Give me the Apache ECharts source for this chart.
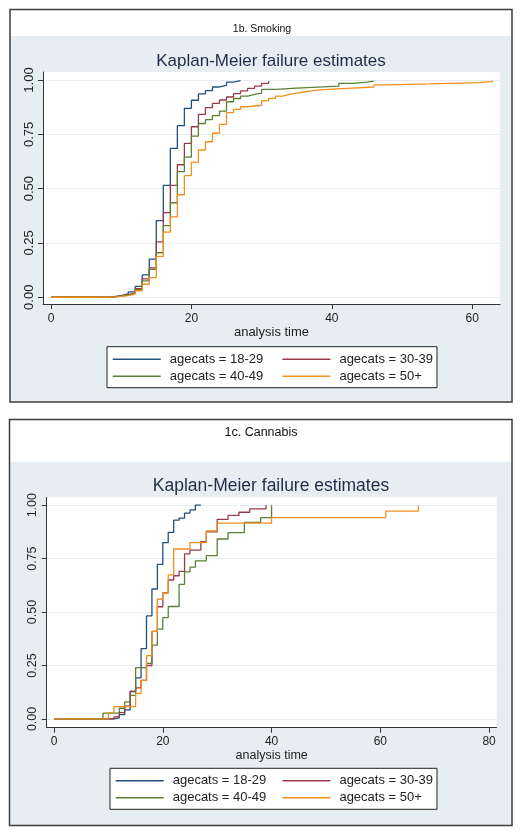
<!DOCTYPE html>
<html><head><meta charset="utf-8">
<script src="https://cdn.jsdelivr.net/npm/echarts@6/dist/echarts.min.js"></script>
<style>html,body{margin:0;padding:0;background:#fff}#c{width:522px;height:835px}</style>
</head><body><div id="c"></div>
<script>
const seriesNames = ['agecats = 18-29', 'agecats = 30-39', 'agecats = 40-49', 'agecats = 50+'];
const lineColors = ['#22507e', '#9b3a48', '#5b8035', '#f0901c'];
const xTicksSmoking = [0, 20, 40, 60];
const xTicksCannabis = [0, 20, 40, 60, 80];
const yTicks = [0, 0.25, 0.5, 0.75, 1];

// 1b. Smoking: [analysis time, failure estimate]
const smoke1829 = [[0,0],[8,0.003],[9,0.008],[10,0.015],[11,0.025],[12,0.05],[13,0.103],[14,0.176],[15,0.353],[16,0.515],[17,0.685],[18,0.79],[19,0.87],[20,0.907],[21,0.936],[22,0.951],[23,0.968],[24,0.975],[25,0.99],[26,0.997],[27,0.997]];
const smoke3039 = [[0,0],[8,0.002],[9,0.006],[10,0.012],[11,0.02],[12,0.04],[13,0.085],[14,0.135],[15,0.255],[16,0.39],[17,0.515],[18,0.61],[19,0.708],[20,0.785],[21,0.842],[22,0.873],[23,0.893],[24,0.908],[25,0.922],[26,0.937],[27,0.95],[28,0.962],[29,0.972],[30,0.985],[31,0.995]];
const smoke4049 = [[0,0],[8,0.002],[9,0.005],[10,0.01],[11,0.018],[12,0.035],[13,0.075],[14,0.128],[15,0.205],[16,0.33],[17,0.435],[18,0.578],[19,0.645],[20,0.742],[21,0.8],[22,0.818],[23,0.836],[24,0.857],[25,0.9],[26,0.915],[27,0.926],[28,0.934],[29,0.94],[30,0.957],[32,0.963],[35,0.972],[41,0.985],[43,0.99],[45,0.995],[46,0.995]];
const smoke50 = [[0,0],[8,0.001],[9,0.004],[10,0.008],[11,0.015],[12,0.03],[13,0.06],[14,0.09],[15,0.188],[16,0.3],[17,0.37],[18,0.472],[19,0.56],[20,0.622],[21,0.678],[22,0.716],[23,0.755],[24,0.796],[25,0.85],[26,0.865],[27,0.877],[28,0.884],[30,0.905],[31,0.916],[32,0.926],[33,0.934],[34,0.94],[35,0.945],[36,0.95],[37,0.954],[38,0.958],[40,0.963],[43,0.968],[46,0.978],[48,0.982],[54,0.988],[61,0.994],[63,0.994]];

// 1c. Cannabis
const can1829 = [[0,0],[11,0.005],[12,0.02],[13,0.042],[14,0.128],[15,0.192],[16,0.329],[17,0.482],[18,0.608],[19,0.723],[20,0.825],[21,0.873],[22,0.93],[23,0.94],[24,0.963],[25,0.978],[26,1.0],[27,1.0]];
const can3039 = [[0,0],[11,0.01],[12,0.03],[13,0.06],[14,0.13],[15,0.145],[16,0.18],[17,0.25],[18,0.41],[19,0.525],[20,0.59],[21,0.65],[22,0.67],[23,0.69],[24,0.772],[25,0.79],[27,0.83],[28,0.875],[30,0.934],[32,0.952],[34,0.967],[36,0.983],[39,1.0]];
const can4049 = [[0,0],[9,0.027],[12,0.05],[13,0.08],[14,0.11],[15,0.24],[17,0.26],[18,0.345],[19,0.42],[20,0.474],[21,0.526],[23,0.63],[24,0.688],[25,0.71],[26,0.74],[28,0.764],[30,0.842],[32,0.872],[35,0.92],[38,0.942],[40,1.0]];
const can50 = [[0,0],[10,0.03],[11,0.058],[15,0.12],[16,0.18],[17,0.296],[18,0.41],[19,0.56],[20,0.588],[21,0.674],[22,0.795],[25,0.825],[28,0.88],[30,0.916],[40,0.942],[61,0.972],[67,1.0]];

const smokingData = [smoke1829, smoke3039, smoke4049, smoke50];
const cannabisData = [can1829, can3039, can4049, can50];

const FONT = 'Liberation Sans, Arial, sans-serif';
const AX = '#333';
const GRIDC = '#e5edf0';

function xAxisCfg(gi, min, max, ticks, margin, fs, nameGap, nfs) {
  return {
    gridIndex: gi, type: 'value', min: min, max: max,
    axisLine: {show: true, onZero: false, lineStyle: {color: AX, width: 1}},
    axisTick: {show: true, length: 5, customValues: ticks, lineStyle: {color: AX}},
    axisLabel: {customValues: ticks, margin: margin, fontSize: fs, color: '#222', fontFamily: FONT},
    splitLine: {show: false},
    name: 'analysis time', nameLocation: 'middle', nameGap: nameGap,
    nameTextStyle: {fontSize: nfs, color: '#222', fontFamily: FONT}
  };
}
function yAxisCfg(gi, min, max, margin, fs) {
  return {
    gridIndex: gi, type: 'value', min: min, max: max,
    axisLine: {show: true, onZero: false, lineStyle: {color: AX, width: 1}},
    axisTick: {show: true, length: 5, customValues: yTicks, lineStyle: {color: AX}},
    axisLabel: {customValues: yTicks, rotate: 90, margin: margin, fontSize: fs, color: '#222', fontFamily: FONT,
      formatter: v => v.toFixed(2)},
    splitLine: {show: true, lineStyle: {color: GRIDC, width: 1}}
  };
}
function legendCfg(left, top, w1, padL) {
  return {
    left: left, top: top, orient: 'horizontal', width: 330,
    selectedMode: false, itemWidth: 48, itemHeight: 14, itemGap: 3,
    padding: [5.5, 4, 4.5, padL], borderColor: '#222', borderWidth: 1, backgroundColor: '#fff',
    itemStyle: {opacity: 0},
    lineStyle: {width: 1.4},
    textStyle: {fontSize: 13, color: '#222', fontFamily: FONT, lineHeight: 14, padding: [0, 0, 0, 4]},
    data: [
      {name: seriesNames[0], textStyle: {width: w1}},
      {name: seriesNames[1]},
      {name: seriesNames[2], textStyle: {width: w1}},
      {name: seriesNames[3]}
    ]
  };
}

const series = [];
smokingData.forEach((d, i) => series.push({
  name: seriesNames[i], type: 'line', step: 'end', data: d, xAxisIndex: 0, yAxisIndex: 0,
  symbol: 'none', lineStyle: {color: lineColors[i], width: 1.3}, itemStyle: {color: lineColors[i]}, animation: false
}));
cannabisData.forEach((d, i) => series.push({
  name: seriesNames[i], type: 'line', step: 'end', data: d, xAxisIndex: 1, yAxisIndex: 1,
  symbol: 'none', lineStyle: {color: lineColors[i], width: 1.3}, itemStyle: {color: lineColors[i]}, animation: false
}));

const chart = echarts.init(document.getElementById('c'), null, {renderer: 'canvas'});
chart.setOption({
  backgroundColor: '#fff',
  animation: false,
  graphic: [
    {type: 'rect', z: -10, shape: {x: 11, y: 36, width: 500, height: 365.5}, style: {fill: '#e6eef1'}, silent: true},
    {type: 'rect', z: 100, shape: {x: 10, y: 9.5, width: 502, height: 392.5}, style: {fill: 'none', stroke: '#3c3c3c', lineWidth: 1.5}, silent: true},
    {type: 'rect', z: -10, shape: {x: 10.5, y: 461.7, width: 501, height: 363.5}, style: {fill: '#e6eef1'}, silent: true},
    {type: 'rect', z: 100, shape: {x: 9.5, y: 419.5, width: 502.5, height: 406}, style: {fill: 'none', stroke: '#3c3c3c', lineWidth: 1.5}, silent: true}
  ],
  title: [
    {text: '1b. Smoking', left: 262, top: 24, textAlign: 'center', padding: 0,
      textStyle: {fontSize: 10.5, fontWeight: 'normal', color: '#111', fontFamily: FONT}},
    {text: 'Kaplan-Meier failure estimates', left: 271, top: 53, textAlign: 'center', padding: 0,
      textStyle: {fontSize: 17, fontWeight: 'normal', color: '#1e2d4a', fontFamily: FONT}},
    {text: '1c. Cannabis', left: 261, top: 426, textAlign: 'center', padding: 0,
      textStyle: {fontSize: 12.5, fontWeight: 'normal', color: '#111', fontFamily: FONT}},
    {text: 'Kaplan-Meier failure estimates', left: 271, top: 477.5, textAlign: 'center', padding: 0,
      textStyle: {fontSize: 17.5, fontWeight: 'normal', color: '#1e2d4a', fontFamily: FONT}}
  ],
  grid: [
    {left: 43, top: 72, width: 457, height: 232, show: true, backgroundColor: '#fff', borderWidth: 0},
    {left: 46.7, top: 497.3, width: 450, height: 230.4, show: true, backgroundColor: '#fff', borderWidth: 0}
  ],
  xAxis: [
    xAxisCfg(0, -1.14, 63.96, xTicksSmoking, 9, 12, 20, 13),
    xAxisCfg(1, -1.35, 81.4, xTicksCannabis, 8, 12, 19, 12.5)
  ],
  yAxis: [
    yAxisCfg(0, -0.031, 1.037, 7, 13),
    yAxisCfg(1, -0.041, 1.037, 8, 12.5)
  ],
  legend: [
    legendCfg(107, 346.7, 109, 5),
    legendCfg(110, 768.3, 106, 5)
  ],
  series: series
});
</script>
</body></html>
